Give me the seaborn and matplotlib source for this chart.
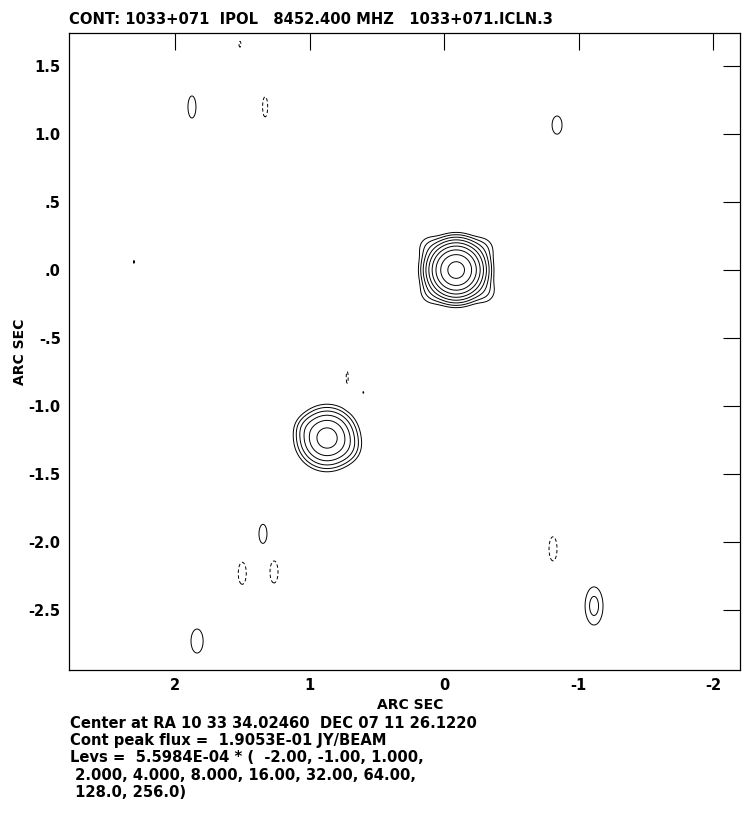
import matplotlib
matplotlib.use("Agg")
import matplotlib.pyplot as plt
import numpy as np
import seaborn as sns

# --- data --------------------------------------------------------------------
title = "CONT: 1033+071  IPOL   8452.400 MHZ   1033+071.ICLN.3"
footer = [
    "Center at RA 10 33 34.02460  DEC 07 11 26.1220",
    "Cont peak flux =  1.9053E-01 JY/BEAM",
    "Levs =  5.5984E-04 * (  -2.00, -1.00, 1.000,",
    " 2.000, 4.000, 8.000, 16.00, 32.00, 64.00,",
    " 128.0, 256.0)",
]

base_level = 5.5984e-4
level_mults = [-2.0, -1.0, 1.0, 2.0, 4.0, 8.0, 16.0, 32.0, 64.0, 128.0, 256.0]

# emission components: offsets (arcsec), peak (units of base level), widths (arcsec)
comp_ra = [-0.09, 0.11, -0.29, -0.30, 0.10, 0.87, 0.72, 1.02,
           1.874, 1.33, -0.84, 1.517, 2.305, 0.72, 0.60,
           1.346, 1.50, 1.264, -0.81, -1.115, 1.836]
comp_dec = [0.0, 0.17, 0.16, -0.16, -0.17, -1.235, -1.31, -1.16,
            1.199, 1.20, 1.066, 1.66, 0.06, -0.79, -0.90,
            -1.94, -2.23, -2.22, -2.05, -2.47, -2.728]
comp_peak = [340.3, 1.6, 1.6, 1.8, 1.5, 45.0, 1.8, 1.5,
             1.5, -1.3, 1.5, -1.1, 1.05, -1.1, 1.05,
             1.5, -1.5, -1.5, -1.4, 2.52, 1.5]
comp_sig_ra = [0.082, 0.06, 0.06, 0.06, 0.06, 0.09, 0.06, 0.05,
               0.033, 0.026, 0.041, 0.017, 0.012, 0.017, 0.012,
               0.033, 0.033, 0.033, 0.036, 0.049, 0.050]
comp_sig_dec = [0.081, 0.06, 0.06, 0.06, 0.06, 0.09, 0.06, 0.05,
                0.090, 0.102, 0.074, 0.050, 0.035, 0.100, 0.020,
                0.078, 0.090, 0.090, 0.108, 0.103, 0.098]

x_lim = (2.788, -2.2)
y_lim = (-2.941, 1.743)
x_ticks = [2, 1, 0, -1, -2]
x_tick_labels = ["2", "1", "0", "-1", "-2"]
y_ticks = [1.5, 1.0, 0.5, 0.0, -0.5, -1.0, -1.5, -2.0, -2.5]
y_tick_labels = ["1.5", "1.0", ".5", ".0", "-.5", "-1.0", "-1.5", "-2.0", "-2.5"]

# --- build the map -------------------------------------------------------------
ra = np.linspace(x_lim[0], x_lim[1], 1100)
dec = np.linspace(y_lim[0], y_lim[1], 1050)
RA, DEC = np.meshgrid(ra, dec)
image = np.zeros_like(RA)
for x0, y0, p, sx, sy in zip(comp_ra, comp_dec, comp_peak, comp_sig_ra, comp_sig_dec):
    image += p * np.exp(-((RA - x0) ** 2 / (2 * sx ** 2) + (DEC - y0) ** 2 / (2 * sy ** 2)))
image *= base_level
levels = [base_level * m for m in level_mults]

# --- plot ----------------------------------------------------------------------
sns.set_style("white")
plt.rcParams["font.family"] = ["DejaVu Sans"]
plt.rcParams["font.weight"] = "bold"
plt.rcParams["text.color"] = "black"
plt.rcParams["axes.labelcolor"] = "black"

fig = plt.figure(figsize=(7.51, 8.16), dpi=100)
ax = fig.add_axes([69 / 751, 1 - 670 / 816, 671 / 751, 637 / 816])

ax.contour(RA, DEC, image, levels=levels, colors="black", linewidths=0.7,
           negative_linestyles=(0, (3.5, 2.5)))

ax.set_xlim(*x_lim)
ax.set_ylim(*y_lim)
ax.set_xticks(x_ticks)
ax.set_xticklabels(x_tick_labels)
ax.set_yticks(y_ticks)
ax.set_yticklabels(y_tick_labels)
ax.tick_params(direction="in", length=12, width=0.8, top=True, right=True,
               labelsize=10.5, pad=6, colors="black")
for s in ax.spines.values():
    s.set_linewidth(0.9)
    s.set_color("black")

ax.set_xlabel("ARC SEC", fontsize=10, fontweight="bold", color="black")
ax.xaxis.set_label_coords(0.508, -0.044)
ax.set_ylabel("ARC SEC", fontsize=10, fontweight="bold", color="black")
ax.yaxis.set_label_coords(-0.062, 0.5)

fig.text(69 / 751, 1 - 24 / 816, title, fontsize=10.6, fontweight="bold",
         va="baseline", color="black")
baselines = [728, 745, 762, 780, 797]
for line, yb in zip(footer, baselines):
    fig.text(70 / 751, 1 - yb / 816, line, fontsize=10.6, fontweight="bold",
             va="baseline", color="black")

fig.savefig("out.png", dpi=100)
